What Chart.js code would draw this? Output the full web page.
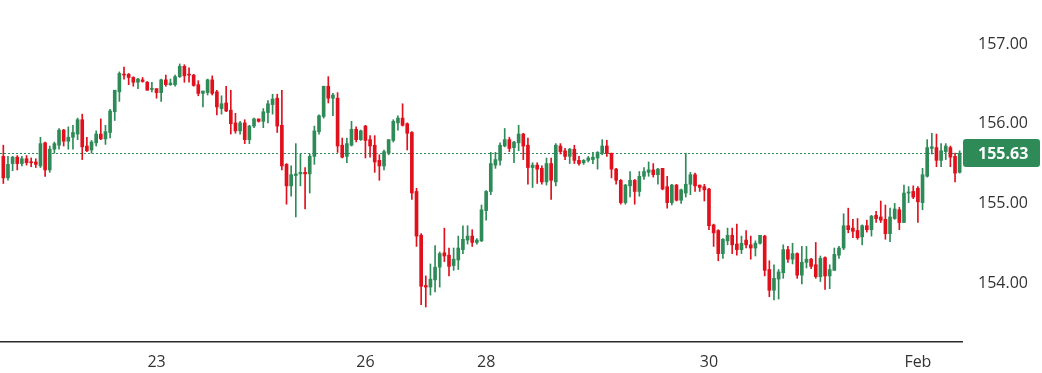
<!DOCTYPE html>
<html><head><meta charset="utf-8">
<script src="https://cdn.jsdelivr.net/npm/chart.js@4.4.1/dist/chart.umd.min.js"></script>
<style>html,body{margin:0;padding:0;background:#fff;overflow:hidden}canvas{display:block}</style>
</head><body>
<canvas id="c" width="1042" height="373"></canvas>
<script>
const opens=[155.59,155.32,155.50,155.58,155.50,155.56,155.52,155.52,155.47,155.76,
155.42,155.68,155.73,155.92,155.78,155.83,155.87,156.05,155.72,155.67,
155.76,155.87,155.81,155.89,156.15,156.40,156.62,156.62,156.58,156.52,
156.55,156.52,156.43,156.44,156.39,156.55,156.49,156.49,156.59,156.72,
156.62,156.61,156.49,156.38,156.39,156.55,156.40,156.19,156.26,156.17,
156.01,155.91,156.01,155.80,155.97,156.06,156.03,156.14,156.24,156.32,
155.98,155.49,155.22,155.35,155.37,155.39,155.37,155.59,155.90,156.09,
156.47,156.32,156.32,155.73,155.59,155.73,155.93,155.80,155.97,155.80,
155.73,155.54,155.47,155.63,155.79,156.01,156.07,156.00,155.89,155.15,
154.60,153.97,153.95,154.04,154.20,154.38,154.35,154.22,154.29,154.42,
154.54,154.59,154.51,154.53,154.91,155.15,155.48,155.54,155.72,155.80,
155.70,155.76,155.87,155.73,155.45,155.48,155.44,155.27,155.50,155.27,
155.72,155.66,155.59,155.68,155.54,155.51,155.54,155.55,155.57,155.63,
155.72,155.63,155.43,155.29,155.01,155.22,155.29,155.15,155.34,155.39,
155.42,155.36,155.44,155.21,155.01,155.23,155.04,155.13,155.24,155.36,
155.23,155.21,155.18,154.73,154.66,154.37,154.53,154.60,154.49,154.42,
154.54,154.48,154.44,154.50,154.59,154.17,153.91,154.05,154.13,154.42,
154.30,154.37,154.10,154.26,154.30,154.23,154.08,154.32,154.09,154.16,
154.35,154.44,154.72,154.69,154.66,154.58,154.72,154.67,154.85,154.83,
154.80,154.62,154.81,154.92,154.76,155.13,155.15,155.19,155.01,155.34,
155.69,155.70,155.54,155.65,155.70,155.59,155.39];
const highs=[155.73,155.59,155.59,155.60,155.59,155.60,155.57,155.56,155.83,155.77,
155.72,155.77,155.94,155.93,155.96,155.98,156.07,156.12,155.83,155.79,
155.91,156.06,155.98,156.18,156.42,156.65,156.71,156.63,156.59,156.57,
156.58,156.53,156.52,156.44,156.56,156.61,156.56,156.61,156.75,156.74,
156.70,156.62,156.54,156.41,156.56,156.60,156.42,156.35,156.47,156.42,
156.13,156.03,156.05,155.98,156.07,156.06,156.19,156.29,156.37,156.37,
156.42,155.50,155.47,155.75,155.62,155.45,155.62,155.97,156.11,156.47,
156.59,156.38,156.39,155.82,155.82,156.03,155.96,155.92,155.98,155.85,
155.85,155.61,155.67,155.80,156.05,156.10,156.25,156.01,155.90,155.19,
154.62,154.09,154.24,154.47,154.39,154.69,154.44,154.44,154.59,154.72,
154.72,154.67,154.56,154.98,155.16,155.64,155.64,155.76,155.94,155.83,
155.78,155.98,155.88,155.82,155.51,155.51,155.47,155.57,155.57,155.75,
155.75,155.69,155.69,155.73,155.59,155.55,155.59,155.64,155.65,155.80,
155.79,155.63,155.44,155.30,155.24,155.40,155.30,155.40,155.45,155.52,
155.50,155.44,155.44,155.34,155.24,155.24,155.18,155.63,155.39,155.38,
155.23,155.24,155.19,154.74,154.67,154.56,154.69,154.69,154.74,154.59,
154.66,154.59,154.53,154.60,154.60,154.28,154.23,154.17,154.48,154.46,
154.50,154.38,154.46,154.46,154.31,154.51,154.34,154.33,154.23,154.44,
154.46,154.87,154.94,154.80,154.81,154.73,154.79,154.85,154.90,155.03,
154.98,154.94,155.00,154.95,155.23,155.21,155.22,155.21,155.44,155.80,
155.88,155.87,155.75,155.75,155.72,155.63,155.66];
const lows=[155.25,155.29,155.41,155.42,155.47,155.48,155.46,155.45,155.45,155.34,
155.39,155.63,155.68,155.72,155.68,155.68,155.80,155.55,155.65,155.63,
155.72,155.80,155.74,155.82,156.04,156.28,156.56,156.49,156.47,156.44,
156.52,156.42,156.40,156.32,156.28,156.47,156.48,156.47,156.58,156.52,
156.52,156.47,156.35,156.21,156.36,156.36,156.11,156.12,156.15,155.87,
155.88,155.87,155.75,155.75,155.95,156.02,155.95,156.01,156.12,155.89,
155.42,154.99,155.09,154.83,155.22,154.93,155.13,155.49,155.87,156.07,
156.26,156.10,155.64,155.57,155.51,155.72,155.77,155.79,155.57,155.58,
155.39,155.29,155.42,155.61,155.77,155.92,155.97,155.67,155.05,154.46,
153.73,153.70,153.85,153.89,153.95,154.27,154.09,154.16,154.17,154.37,
154.49,154.46,154.49,154.52,154.79,155.11,155.44,155.48,155.71,155.65,
155.51,155.66,155.55,155.24,155.20,155.25,155.24,155.23,155.05,155.22,
155.62,155.55,155.50,155.50,155.48,155.49,155.52,155.50,155.43,155.61,
155.59,155.32,155.24,154.99,154.99,155.08,154.99,155.09,155.30,155.34,
155.33,155.24,155.17,154.94,154.98,155.03,155.00,155.08,155.11,155.15,
155.15,155.03,154.67,154.46,154.28,154.31,154.48,154.37,154.35,154.37,
154.44,154.30,154.34,154.49,154.09,153.83,153.79,153.80,154.06,154.26,
154.24,154.06,153.99,154.19,154.18,154.06,154.02,153.92,153.93,154.16,
154.31,154.42,154.63,154.57,154.55,154.48,154.64,154.59,154.76,154.76,
154.55,154.52,154.80,154.67,154.76,155.01,155.06,154.76,154.92,155.33,
155.62,155.46,155.46,155.55,155.46,155.27,155.38];
const closes=[155.32,155.49,155.58,155.50,155.56,155.51,155.51,155.49,155.75,155.42,
155.68,155.75,155.92,155.78,155.83,155.89,156.05,155.71,155.66,155.77,
155.87,155.81,155.90,156.16,156.42,156.63,156.61,156.58,156.52,156.56,
156.53,156.42,156.43,156.39,156.55,156.49,156.51,156.59,156.72,156.60,
156.61,156.48,156.38,156.41,156.55,156.38,156.21,156.25,156.16,156.00,
155.91,156.01,155.80,155.97,156.06,156.03,156.15,156.25,156.31,155.97,
155.47,155.22,155.36,155.37,155.39,155.37,155.59,155.91,156.10,156.47,
156.32,156.36,155.72,155.58,155.75,155.93,155.80,155.91,155.79,155.72,
155.52,155.47,155.65,155.80,156.03,156.07,155.98,155.88,155.13,154.59,
153.96,153.95,154.05,154.20,154.37,154.34,154.21,154.30,154.44,154.55,
154.59,154.51,154.54,154.92,155.15,155.50,155.55,155.73,155.80,155.69,
155.77,155.87,155.72,155.45,155.48,155.43,155.27,155.50,155.29,155.73,
155.65,155.59,155.68,155.54,155.50,155.54,155.57,155.58,155.64,155.72,
155.63,155.43,155.29,155.01,155.23,155.29,155.15,155.34,155.40,155.42,
155.36,155.43,155.18,155.01,155.23,155.04,155.17,155.24,155.36,155.22,
155.20,155.17,154.72,154.63,154.37,154.55,154.60,154.48,154.42,154.50,
154.48,154.44,154.50,154.60,154.16,153.91,154.06,154.14,154.42,154.30,
154.37,154.10,154.26,154.30,154.21,154.08,154.31,154.09,154.17,154.36,
154.44,154.72,154.67,154.65,154.57,154.72,154.67,154.84,154.81,154.79,
154.62,154.83,154.93,154.76,155.13,155.14,155.08,155.02,155.36,155.70,
155.71,155.54,155.66,155.72,155.58,155.38,155.63];
const xTickIndices=[33,78,104,152,197];
const xTickTexts=['23','26','28','30','Feb'];
const yTickValues=[154,155,156,157];

const GREEN='#2e8b57', RED='#e0101c', TEXT='#333333';
const categories=opens.map((_,i)=>String(i));
const colors=closes.map((c,i)=>c>=opens[i]?GREEN:RED);
const lastClose=closes[closes.length-1];

Chart.defaults.font.family="'Open Sans', sans-serif";
Chart.defaults.font.size=16;
Chart.defaults.color=TEXT;

function zeroPad(s){s.paddingLeft=0;s.paddingRight=0;s.paddingTop=0;s.paddingBottom=0;}

const lastPricePlugin={
  id:'lastPrice',
  beforeDatasetsDraw(chart){
    const ctx=chart.ctx, a=chart.chartArea;
    const y=Math.round(chart.scales.y.getPixelForValue(lastClose))+0.5;
    ctx.save();
    ctx.strokeStyle=GREEN; ctx.lineWidth=1; ctx.setLineDash([2,2]);
    ctx.beginPath(); ctx.moveTo(a.left-1,y); ctx.lineTo(a.right+1,y); ctx.stroke();
    ctx.restore();
  },
  afterDraw(chart){
    const ctx=chart.ctx, a=chart.chartArea;
    const y=chart.scales.y.getPixelForValue(lastClose);
    ctx.save();
    ctx.fillStyle=GREEN;
    const x0=a.right+1, w=77, h=28;
    ctx.beginPath();
    if(ctx.roundRect){ctx.roundRect(x0,Math.round(y-h/2),w,h,3);}else{ctx.rect(x0,Math.round(y-h/2),w,h);}
    ctx.fill();
    ctx.fillStyle='#ffffff';
    ctx.font="bold 16px 'Open Sans', sans-serif";
    ctx.textAlign='left'; ctx.textBaseline='middle';
    ctx.fillText(lastClose.toFixed(2), a.right+16, y+1);
    ctx.restore();
  }
};

new Chart(document.getElementById('c'),{
  type:'bar',
  data:{
    labels:categories,
    datasets:[
      {data:lows.map((l,i)=>[l,highs[i]]),backgroundColor:colors,barThickness:1,grouped:false,order:2,borderWidth:0},
      {data:opens.map((o,i)=>[o,closes[i]]),backgroundColor:colors,barThickness:3,minBarLength:1,grouped:false,order:1,borderWidth:0}
    ]
  },
  options:{
    responsive:false,
    animation:false,
    devicePixelRatio:1,
    layout:{padding:{left:1,right:0,top:0,bottom:0}},
    plugins:{legend:{display:false},tooltip:{enabled:false}},
    scales:{
      x:{
        type:'category',
        offset:true,
        grid:{display:false,drawTicks:false},
        border:{display:true,color:'#2b2b2b',width:1.5},
        ticks:{
          autoSkip:false,maxRotation:0,minRotation:0,padding:11,color:TEXT,
          callback:(v,i)=>{const k=xTickIndices.indexOf(i);return k>=0?xTickTexts[k]:'';}
        },
        afterFit:(s)=>{s.height=31;zeroPad(s);}
      },
      y:{
        position:'right',
        min:153.261,max:157.552,
        grid:{display:false,drawTicks:false},
        border:{display:false},
        ticks:{padding:16,color:TEXT,callback:(v)=>Number(v).toFixed(2)},
        afterBuildTicks:(s)=>{s.ticks=yTickValues.map(v=>({value:v}));},
        afterFit:(s)=>{s.width=80;zeroPad(s);}
      }
    }
  },
  plugins:[lastPricePlugin]
});
</script>
</body></html>
